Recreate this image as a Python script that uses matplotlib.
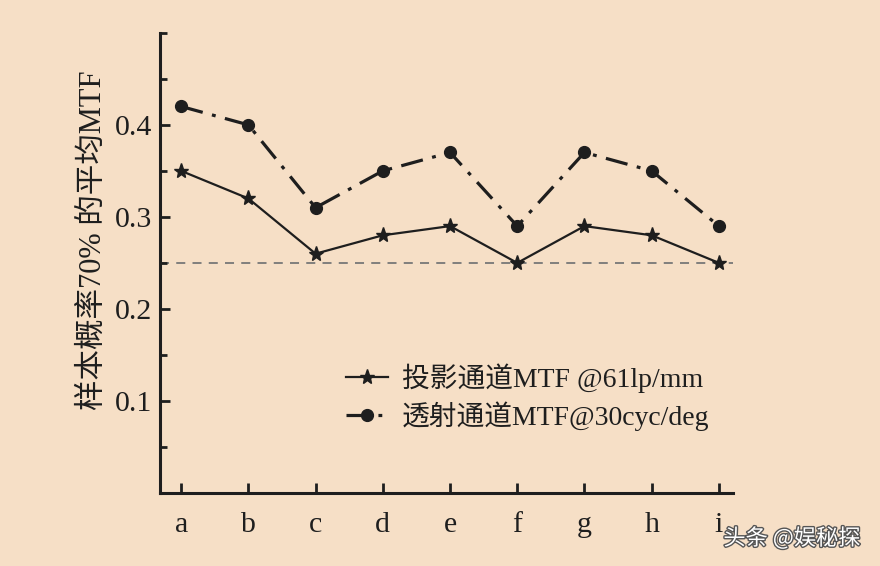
import matplotlib
matplotlib.use("Agg")
import matplotlib.pyplot as plt
import matplotlib.patheffects as pe
from matplotlib.ticker import MultipleLocator

categories = ["a", "b", "c", "d", "e", "f", "g", "h", "i"]
projection_mtf = [0.35, 0.32, 0.26, 0.28, 0.29, 0.25, 0.29, 0.28, 0.25]
transmission_mtf = [0.42, 0.40, 0.31, 0.35, 0.37, 0.29, 0.37, 0.35, 0.29]
threshold = 0.25
y_ticks = [0.1, 0.2, 0.3, 0.4]

label_proj = "投影通道MTF @61lp/mm"
label_trans = "透射通道MTF@30cyc/deg"
y_title = "样本概率70% 的平均MTF"
watermark = "头条 @娱秘探"

bg = "#F6DFC6"
ink = "#1e1e1e"
fonts = ["Liberation Serif", "Noto Sans CJK SC"]
plt.rcParams["font.family"] = fonts


def main():
    fig = plt.figure(figsize=(8.8, 5.66), dpi=100, facecolor=bg)
    ax = fig.add_axes([0.182, 0.129, 0.651, 0.813])
    ax.set_facecolor(bg)

    x = list(range(len(categories)))

    ax.axhline(threshold, color="#777777", lw=1.3, ls=(0, (5, 4)), zorder=1)
    ax.plot(x, projection_mtf, color=ink, lw=1.6, marker="*", ms=11,
            label=label_proj, zorder=3)
    ax.plot(x, transmission_mtf, color=ink, lw=2.3, ls=(0, (7, 3, 1.2, 3)),
            marker="o", ms=8.5, label=label_trans, zorder=3)

    ax.set_xlim(-0.312, 8.21)
    ax.set_ylim(0, 0.5)
    ax.set_xticks(x)
    ax.set_xticklabels(categories)
    ax.set_yticks(y_ticks)
    ax.set_yticklabels([f"{v:.1f}" for v in y_ticks])
    ax.yaxis.set_minor_locator(MultipleLocator(0.05))

    for side in ["top", "right"]:
        ax.spines[side].set_visible(False)
    for side in ["left", "bottom"]:
        ax.spines[side].set_linewidth(2.2)
        ax.spines[side].set_color(ink)

    ax.tick_params(which="major", direction="in", length=7, width=2,
                   color=ink, labelsize=21.5, labelcolor=ink)
    ax.tick_params(axis="y", which="minor", direction="in", length=5,
                   width=2, color=ink)
    ax.tick_params(axis="y", which="major", pad=6)
    ax.tick_params(axis="x", which="major", pad=14)

    ax.set_ylabel(y_title, fontsize=22, color=ink)
    ax.yaxis.set_label_coords(-0.092, 0.55)

    ax.legend(loc="center", bbox_to_anchor=(0.642, 0.209), frameon=False,
              fontsize=20, handlelength=1.5, handletextpad=0.5,
              labelspacing=0.3, labelcolor=ink)

    fig.text(0.822, 0.049, watermark, color="white", fontsize=16,
             family=["Noto Sans CJK SC", "DejaVu Sans"], va="center",
             path_effects=[pe.withStroke(linewidth=2, foreground="#555555")])

    fig.savefig("out.png", dpi=100, facecolor=bg)


if __name__ == "__main__":
    main()
